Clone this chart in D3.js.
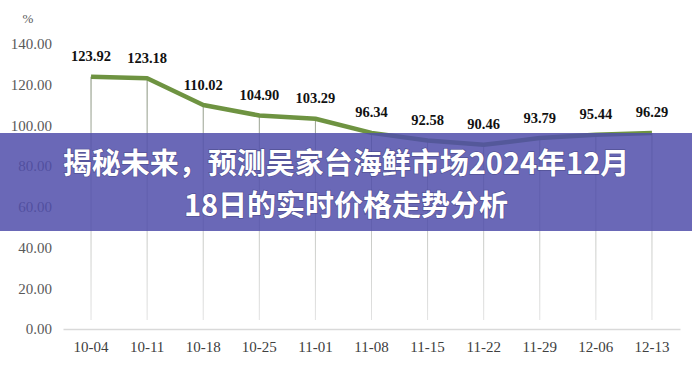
<!DOCTYPE html>
<html><head><meta charset="utf-8">
<script src="https://cdn.jsdelivr.net/npm/d3@7"></script>
<style>html,body{margin:0;padding:0;background:#fff;}svg{display:block;}</style>
</head><body>
<svg id="c" width="692" height="367"></svg>
<script>
const categories = ["10-04","10-11","10-18","10-25","11-01","11-08","11-15","11-22","11-29","12-06","12-13"];
const values = [123.92,123.18,110.02,104.90,103.29,96.34,92.58,90.46,93.79,95.44,96.29];
const yTicks = [0,20,40,60,80,100,120,140];
const unitLabel = "%";
const titleLines = ["揭秘未来，预测吴家台海鲜市场2024年12月","18日的实时价格走势分析"];

const svg = d3.select("#c");
const x = d3.scaleBand().domain(categories).range([63,680]);
const y = d3.scaleLinear().domain([0,140]).range([329,44]);
const cx = d => x(d) + x.bandwidth()/2;
const serif = "'Liberation Serif','Times New Roman',serif";

const defs = svg.append("defs");
const g = defs.append("linearGradient").attr("id","drop").attr("gradientUnits","userSpaceOnUse")
  .attr("x1",0).attr("y1",70).attr("x2",0).attr("y2",320);
g.append("stop").attr("offset",0).attr("stop-color","#7d8a70");
g.append("stop").attr("offset",0.45).attr("stop-color","#b9bcb6");
g.append("stop").attr("offset",1).attr("stop-color","#e2e2e2");

// y axis labels
const yAxis = d3.axisLeft(y).tickValues(yTicks).tickFormat(d3.format(".2f")).tickSize(0).tickPadding(0);
const ya = svg.append("g").attr("transform","translate(52,0)").call(yAxis);
ya.select(".domain").remove();
ya.selectAll("text").attr("font-family",serif).attr("font-size",15).attr("fill","#595959");

svg.append("text").attr("x",28).attr("y",23).attr("text-anchor","middle")
  .attr("font-family",serif).attr("font-size",13).attr("fill","#595959").text(unitLabel);

// drop lines
svg.append("g").selectAll("line").data(categories).join("line")
  .attr("x1",d=>cx(d)).attr("x2",d=>cx(d))
  .attr("y1",(d,i)=>y(values[i])).attr("y2",320)
  .attr("stroke","url(#drop)").attr("stroke-width",1);

// x axis
const xAxis = d3.axisBottom(x).tickSize(0).tickPadding(0);
const xa = svg.append("g").attr("transform","translate(0,329)").call(xAxis);
xa.select(".domain").attr("stroke","#d9d9d9").attr("stroke-width",1.3);
xa.selectAll("text").attr("dy",0).attr("y",23).attr("font-family",serif).attr("font-size",15).attr("fill","#404040");

// line
const line = d3.line().x((d,i)=>cx(categories[i])).y(d=>y(d));
svg.append("path").datum(values).attr("d",line).attr("fill","none")
  .attr("stroke","#6e9341").attr("stroke-width",4.5).attr("stroke-linejoin","round");

// data labels
svg.append("g").selectAll("text").data(values).join("text")
  .attr("x",(d,i)=>cx(categories[i])).attr("y",d=>y(d)-15.5)
  .attr("text-anchor","middle").attr("font-family",serif).attr("font-weight","bold")
  .attr("font-size",14.5).attr("fill","#111").text(d=>d3.format(".2f")(d));

// banner
svg.append("rect").attr("x",0).attr("y",133).attr("width",692).attr("height",98)
  .attr("fill","rgb(80,78,170)").attr("fill-opacity",0.85);
svg.append("g").selectAll("text").data(titleLines).join("text")
  .attr("x",346).attr("y",(d,i)=>174+i*42).attr("text-anchor","middle")
  .attr("font-family","'Noto Sans CJK SC','Noto Sans',sans-serif").attr("font-weight","bold")
  .attr("font-size",29).attr("fill","#fff")
  .style("paint-order","stroke").attr("stroke","rgba(40,40,90,0.35)").attr("stroke-width",1.5)
  .text(d=>d);
</script>
</body></html>
